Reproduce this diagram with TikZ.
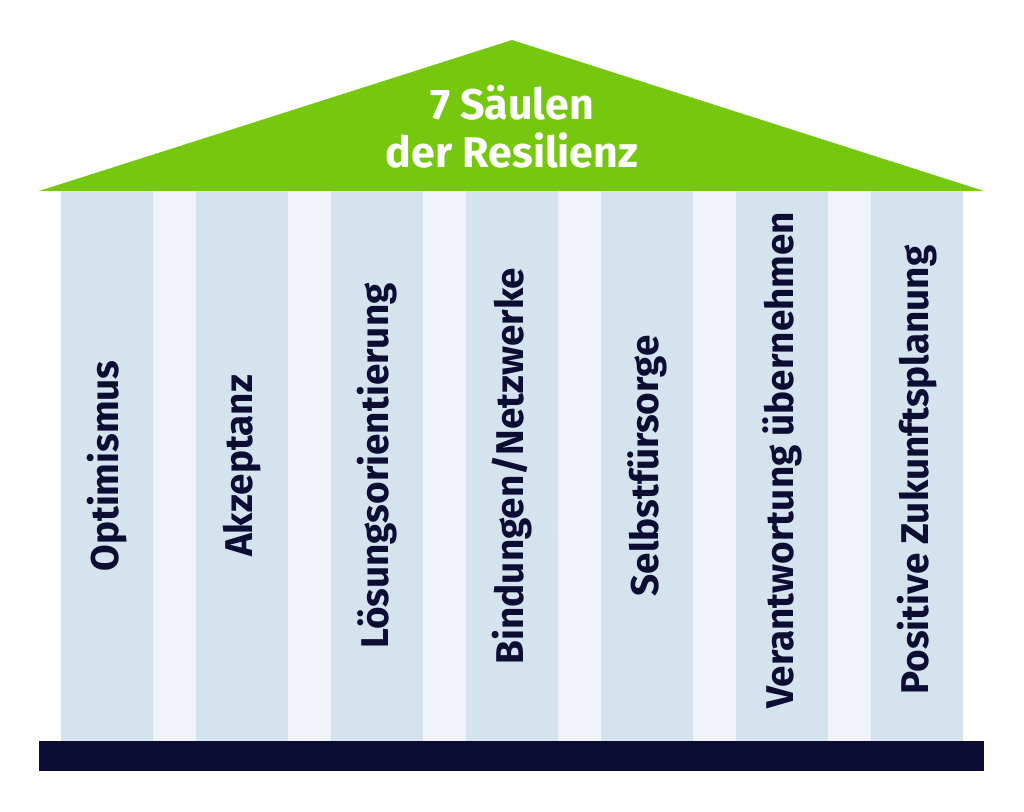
\documentclass[tikz,border=0pt]{standalone}
\usepackage{fontspec}
\setmainfont{Fira Sans}
\usetikzlibrary{positioning}
\definecolor{mgreen}{HTML}{76C80E}
\definecolor{mpillar}{HTML}{D5E3EE}
\definecolor{mgap}{HTML}{F0F4F9}
\definecolor{mnavy}{HTML}{0D0D33}
\tikzset{pillar/.style = {rotate = 90, text = mnavy, font = \bfseries\fontsize{27.5}{32}\selectfont, inner sep = 0}}
\tikzset{title/.style = {text = white, align = center, font = \bfseries\fontsize{30.5}{34}\selectfont, inner sep = 0}}

\begin{document}
\begin{tikzpicture}[x = 0.025cm, y = -0.025cm]
           \useasboundingbox (0, 0) rectangle (1024, 811);

           \fill [mgreen] (39, 191) -- (512, 40) -- (984, 191) -- cycle;
           \node [title] (roof) at (512, 127) {7 Säulen\\der Resilienz};

           \fill [mgap] (61, 191) rectangle (963, 741);
           \fill [mpillar] (61, 191) rectangle (153, 741);
           \fill [mpillar] (196, 191) rectangle (288, 741);
           \fill [mpillar] (331, 191) rectangle (423, 741);
           \fill [mpillar] (466, 191) rectangle (558, 741);
           \fill [mpillar] (601, 191) rectangle (693, 741);
           \fill [mpillar] (736, 191) rectangle (828, 741);
           \fill [mpillar] (871, 191) rectangle (963, 741);

           \node [pillar] (optimismus) at (107, 466) {Optimismus};
           \node [pillar] (akzeptanz) at (242, 466) {Akzeptanz};
           \node [pillar] (loesung) at (377, 466) {Lösungsorientierung};
           \node [pillar] (bindungen) at (512, 466) {Bindungen/Netzwerke};
           \node [pillar] (selbst) at (647, 466) {Selbstfürsorge};
           \node [pillar] (verantwortung) at (782, 460) {Verantwortung übernehmen};
           \node [pillar] (zukunft) at (917, 470) {Positive Zukunftsplanung};

           \fill [mnavy] (39, 741) rectangle (984, 771);
         \end{tikzpicture}
\end{document}
